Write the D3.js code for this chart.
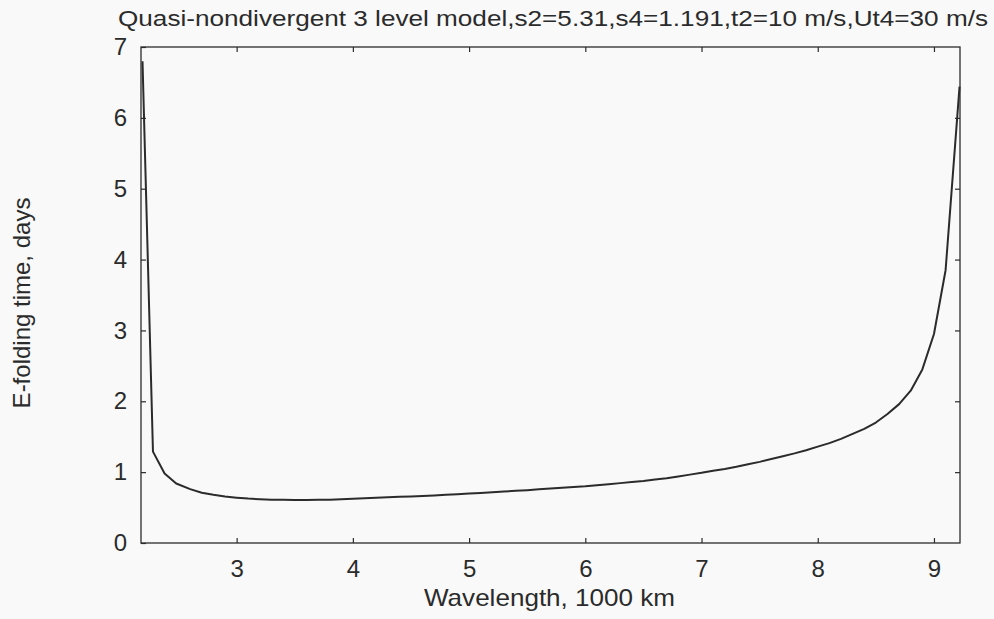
<!DOCTYPE html>
<html>
<head>
<meta charset="utf-8">
<script src="https://cdn.jsdelivr.net/npm/d3@7"></script>
<style>
  body { margin: 0; background: #f9f9f9; }
  text { font-family: "Liberation Sans", Arial, sans-serif; fill: #2b2b2b; }
</style>
</head>
<body>
<div id="chart"></div>
<script>
// wavelength, 1000 km
const wavelength = [
  2.19, 2.28, 2.38, 2.48, 2.6, 2.7, 2.8, 2.9, 3.0, 3.1, 3.2, 3.3, 3.4, 3.5, 3.6, 3.7, 3.8, 3.9,
  4.0, 4.1, 4.2, 4.3, 4.4, 4.5, 4.6, 4.7, 4.8, 4.9, 5.0, 5.1, 5.2, 5.3, 5.4, 5.5, 5.6, 5.7, 5.8, 5.9,
  6.0, 6.1, 6.2, 6.3, 6.4, 6.5, 6.6, 6.7, 6.8, 6.9, 7.0, 7.1, 7.2, 7.3, 7.4, 7.5, 7.6, 7.7, 7.8, 7.9,
  8.0, 8.1, 8.2, 8.3, 8.4, 8.5, 8.6, 8.7, 8.8, 8.9, 9.0, 9.1, 9.22
];
// e-folding time, days
const efold = [
  6.8, 1.29, 0.98, 0.84, 0.76, 0.71, 0.68, 0.655, 0.64, 0.627, 0.618, 0.612, 0.609, 0.607, 0.607, 0.609, 0.612, 0.617,
  0.624, 0.632, 0.638, 0.645, 0.652, 0.658, 0.665, 0.672, 0.68, 0.688, 0.697, 0.706, 0.716, 0.726, 0.736, 0.746, 0.757, 0.768, 0.779, 0.79,
  0.8, 0.815, 0.83, 0.845, 0.86, 0.875, 0.895, 0.915, 0.94, 0.965, 0.99, 1.02, 1.045, 1.075, 1.11, 1.145, 1.185, 1.225, 1.265, 1.31,
  1.36, 1.41, 1.47, 1.54, 1.61, 1.7, 1.82, 1.96, 2.15, 2.45, 2.95, 3.85, 6.44
];
const xTicks = [3, 4, 5, 6, 7, 8, 9];
const yTicks = [0, 1, 2, 3, 4, 5, 6, 7];
const title = "Quasi-nondivergent 3 level model,s2=5.31,s4=1.191,t2=10 m/s,Ut4=30 m/s";
const xLabel = "Wavelength, 1000 km";
const yLabel = "E-folding time, days";

const W = 994, H = 619;
const margin = { top: 47, right: 34, bottom: 76, left: 141 };
const width = W - margin.left - margin.right;
const height = H - margin.top - margin.bottom;

const svg = d3.select("#chart").append("svg")
  .attr("width", W).attr("height", H);

const g = svg.append("g")
  .attr("transform", `translate(${margin.left},${margin.top})`);

const x = d3.scaleLinear().domain([2.177, 9.224]).range([0, width]);
const y = d3.scaleLinear().domain([0, 7]).range([height, 0]);

const ink = "#2b2b2b";

// frame
g.append("rect")
  .attr("width", width).attr("height", height)
  .attr("fill", "none").attr("stroke", ink).attr("stroke-width", 1.3);

// inward ticks on all four sides
const tick = 5;
const mkAxis = (axis, tr) => {
  const a = g.append("g").attr("transform", tr).call(axis);
  a.select(".domain").remove();
  a.selectAll("line").attr("stroke", ink).attr("stroke-width", 1.2);
  a.selectAll("text").attr("font-size", 24).attr("fill", ink);
  return a;
};
mkAxis(d3.axisBottom(x).tickValues(xTicks).tickSize(-tick).tickPadding(17).tickFormat(d3.format("d")),
  `translate(0,${height})`);
mkAxis(d3.axisTop(x).tickValues(xTicks).tickSize(-tick).tickFormat(""), "translate(0,0)");
mkAxis(d3.axisLeft(y).tickValues(yTicks).tickSize(-tick).tickPadding(14).tickFormat(d3.format("d")),
  "translate(0,0)");
mkAxis(d3.axisRight(y).tickValues(yTicks.slice(1, -1)).tickSize(-tick).tickFormat(""),
  `translate(${width},0)`);

// curve
const pts = wavelength.map((w, i) => [w, efold[i]]);
g.append("path")
  .datum(pts)
  .attr("fill", "none")
  .attr("stroke", ink)
  .attr("stroke-width", 2)
  .attr("stroke-linejoin", "round")
  .attr("d", d3.line().x(d => x(d[0])).y(d => y(d[1])));

// titles
svg.append("text")
  .attr("x", 118).attr("y", 26)
  .attr("font-size", 22)
  .attr("textLength", 870).attr("lengthAdjust", "spacingAndGlyphs")
  .text(title);

svg.append("text")
  .attr("x", 424).attr("y", 606)
  .attr("font-size", 24)
  .attr("textLength", 251).attr("lengthAdjust", "spacingAndGlyphs")
  .text(xLabel);

svg.append("text")
  .attr("transform", "translate(30,303) rotate(-90)")
  .attr("text-anchor", "middle")
  .attr("font-size", 24)
  .text(yLabel);
</script>
</body>
</html>
